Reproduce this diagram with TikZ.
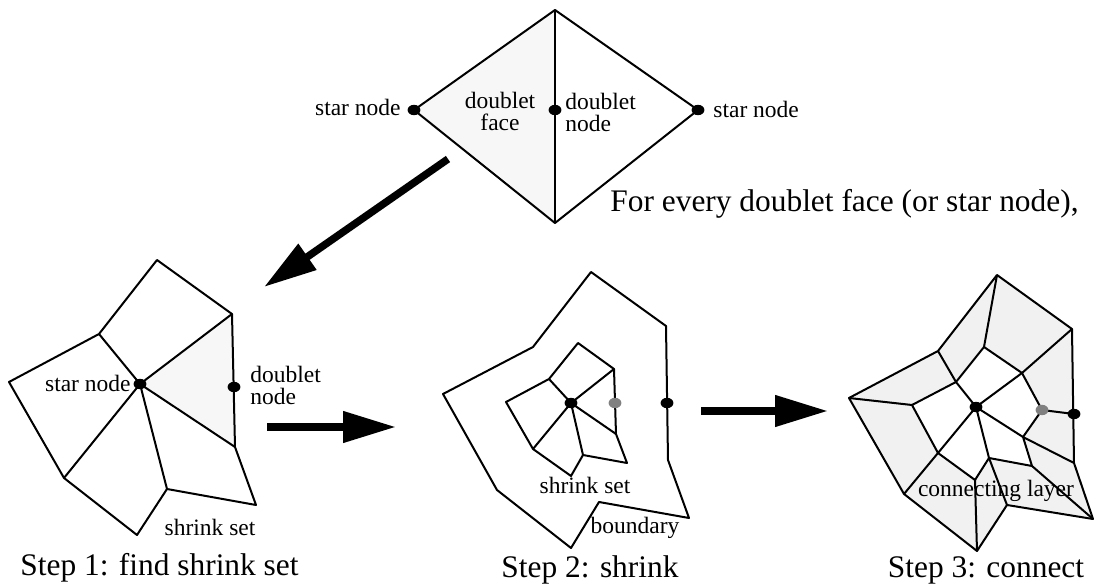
\documentclass[tikz,border=0pt]{standalone}
\usepackage{fontspec}
\setmainfont{Liberation Serif}
\usepackage{tikz}
\usetikzlibrary{arrows.meta}

\colorlet{facegray}{gray!6}
\colorlet{layergray}{gray!11}
\tikzset{
  mesh/.style={line width=1pt, line join=round},
  bigarrow/.style={line width=3.75pt, -{Triangle[length=26.5pt,width=15pt]}},
  small/.style={font=\fontsize{11.75}{11}\selectfont, inner sep=0pt},
  caption/.style={font=\fontsize{15.7}{18}\selectfont, inner sep=0pt},
}
\newcommand{\meshdot}[2][black]{\fill[#1] (#2) ellipse [x radius=3.2pt, y radius=2.6pt];}

\begin{document}
\begin{tikzpicture}[x=0.5pt, y=-0.5pt]
\useasboundingbox (0,0) rectangle (1094,588);

% the two faces of the doublet
\path (555,10) coordinate (t) (414,110) coordinate (l) (698,110) coordinate (r)
      (555,223) coordinate (b) (555,110) coordinate (dn);
\fill[facegray] (t) -- (l) -- (b) -- cycle;
\draw[mesh] (t) -- (l) -- (b) -- (r) -- cycle;
\draw[mesh] (t) -- (b);
\meshdot{l} \meshdot{r} \meshdot{dn}

\node[small, anchor=east] (lstar) at (401,107) {star node};
\node[small, anchor=west] (rstar) at (713,109) {star node};
\node[small, align=center] (dface) at (500,111) {doublet\\face};
\node[small, align=left, anchor=west] (dnode) at (565,112) {doublet\\node};
\node[caption, anchor=base west] (every) at (610,212) {For every doublet face (or star node),};

% step 1
\path (157,260) coordinate (A) (232,314) coordinate (B) (99,334) coordinate (C)
      (9,382) coordinate (D) (140,384) coordinate (S) (234,387) coordinate (dn1)
      (235,447) coordinate (E) (64,478) coordinate (F) (167,489) coordinate (G)
      (256,505) coordinate (H) (137,535) coordinate (I);
\fill[facegray] (S) -- (B) -- (E) -- cycle;
\draw[mesh] (A) -- (B) -- (E) -- (H) -- (G) -- (I) -- (F) -- (D) -- (C) -- cycle;
\draw[mesh] (C) -- (S) -- (B) (S) -- (E) (S) -- (F) (S) -- (G);
\meshdot{S} \meshdot{dn1}

\node[small, anchor=east] (star1) at (131,383) {star node};
\node[small, align=left, anchor=west] (dnode1) at (250,385) {doublet\\node};
\node[small] (set1) at (210,527) {shrink set};
\node[caption, anchor=west] (cap1) at (20,568) {Step 1: find shrink set};

% step 2
\path (591,272) coordinate (o2t) (666,326) coordinate (o2rt) (667,403) coordinate (o2dn)
      (668,460) coordinate (o2rl) (689,518) coordinate (o2fbr) (599,502) coordinate (o2n)
      (571,548) coordinate (o2b) (497,490) coordinate (o2ll) (443,394) coordinate (o2fl)
      (533,347) coordinate (o2lu);
\path (571,403) coordinate (S2) (578,343) coordinate (a2) (614,369) coordinate (b2)
      (615,403) coordinate (dn2) (616,434) coordinate (c2) (627,463) coordinate (d2)
      (583,455) coordinate (e2) (571,476) coordinate (f2) (533,449) coordinate (g2)
      (506,402) coordinate (h2) (549,379) coordinate (i2);
\draw[mesh] (o2t) -- (o2rt) -- (o2rl) -- (o2fbr) -- (o2n) -- (o2b) -- (o2ll) -- (o2fl) -- (o2lu) -- cycle;
\draw[mesh] (a2) -- (b2) -- (c2) -- (d2) -- (e2) -- (f2) -- (g2) -- (h2) -- (i2) -- cycle;
\draw[mesh] (i2) -- (S2) -- (b2) (S2) -- (c2) (S2) -- (e2) (S2) -- (g2);
\meshdot{S2} \meshdot{o2dn} \meshdot[gray]{dn2}

\node[small] (set2) at (585,485) {shrink set};
\node[small] (bnd) at (635,528) {boundary};
\node[caption] (cap2) at (590,570) {Step 2: shrink};

% step 3
\path (997,275) coordinate (o3t) (1072,329) coordinate (o3rt) (1074,414) coordinate (o3dn)
      (1074,463) coordinate (o3rl) (1093,519) coordinate (o3fbr) (1007,505) coordinate (o3n)
      (977,551) coordinate (o3b) (904,494) coordinate (o3ll) (849,398) coordinate (o3fl)
      (938,351) coordinate (o3lu);
\path (976,407) coordinate (S3) (984,347) coordinate (a3) (1022,373) coordinate (b3)
      (1042,410) coordinate (dn3) (1023,437) coordinate (c3) (1032,466) coordinate (d3)
      (989,458) coordinate (e3) (975,480) coordinate (f3) (938,453) coordinate (g3)
      (912,405) coordinate (h3) (956,382) coordinate (i3);
\fill[layergray] (o3t) -- (o3rt) -- (o3rl) -- (o3fbr) -- (o3n) -- (o3b) -- (o3ll) -- (o3fl) -- (o3lu) -- cycle;
\fill[white] (a3) -- (b3) -- (dn3) -- (c3) -- (d3) -- (e3) -- (f3) -- (g3) -- (h3) -- (i3) -- cycle;
\draw[mesh] (o3t) -- (o3rt) -- (o3rl) -- (o3fbr) -- (o3n) -- (o3b) -- (o3ll) -- (o3fl) -- (o3lu) -- cycle;
\draw[mesh] (a3) -- (b3) -- (dn3) -- (c3) -- (d3) -- (e3) -- (f3) -- (g3) -- (h3) -- (i3) -- cycle;
\draw[mesh] (i3) -- (S3) -- (b3) (S3) -- (c3) (S3) -- (e3) (S3) -- (g3);
\draw[mesh] (o3t) -- (a3) (o3rt) -- (b3) (o3dn) -- (dn3) (o3rl) -- (c3) (o3fbr) -- (d3)
            (o3n) -- (e3) (o3b) -- (f3) (o3ll) -- (g3) (o3fl) -- (h3) (o3lu) -- (i3);
\meshdot{S3} \meshdot{o3dn} \meshdot[gray]{dn3}

\node[small] (layer) at (996,491) {connecting layer};
\node[caption] (cap3) at (986,570) {Step 3: connect};

% arrows between the steps
\path (448,159) coordinate (ar1s) (264,287) coordinate (ar1e)
      (267,427) coordinate (ar2s) (396,427) coordinate (ar2e)
      (701,411) coordinate (ar3s) (828,411) coordinate (ar3e);
\draw[bigarrow] (ar1s) -- (ar1e);
\draw[bigarrow] (ar2s) -- (ar2e);
\draw[bigarrow] (ar3s) -- (ar3e);
\end{tikzpicture}
\end{document}
